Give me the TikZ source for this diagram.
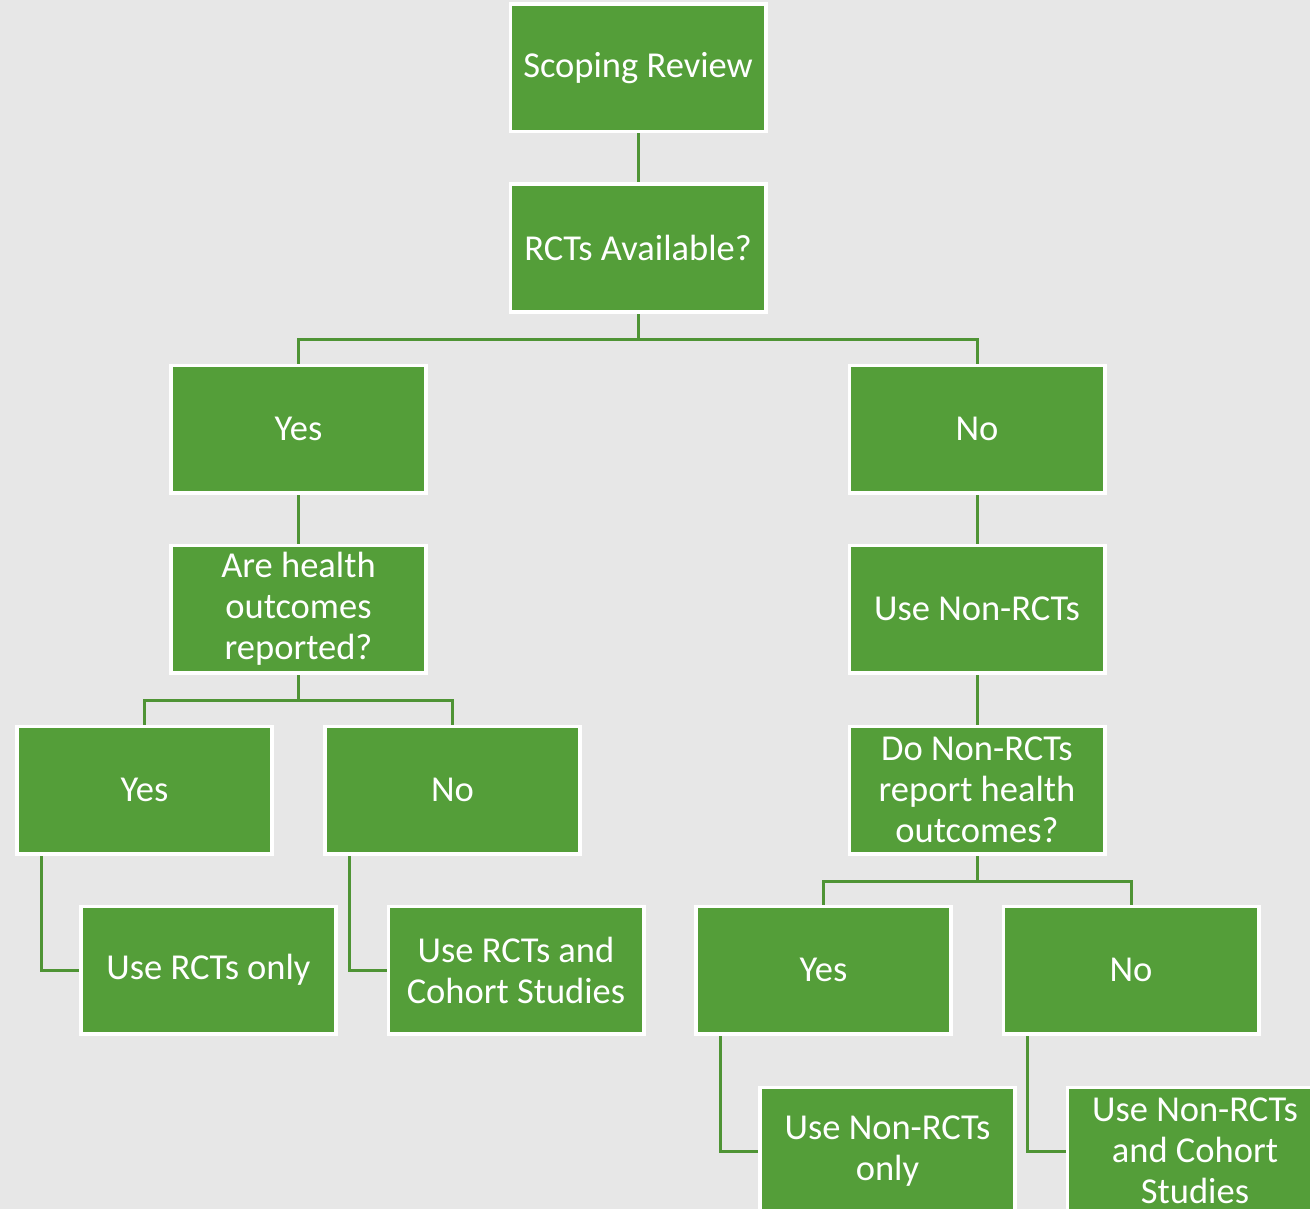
\documentclass[tikz,border=0pt]{standalone}
\usepackage{fontspec}
\setmainfont{Carlito}
\definecolor{bgcol}{HTML}{E7E7E7}
\definecolor{boxgreen}{HTML}{549E39}
\definecolor{linkgreen}{HTML}{4F9435}
\begin{document}
\begin{tikzpicture}[x=1pt,y=-1pt,
  box/.style={draw=white, line width=2.5pt, fill=boxgreen, text=white,
    minimum width=254pt, minimum height=126pt, inner sep=0pt,
    align=center, font=\fontsize{36.5}{41}\selectfont},
  link/.style={draw=linkgreen, line width=3pt}]
\fill[bgcol] (0,0) rectangle (1310,1209);
\clip (0,0) rectangle (1310,1209);
\useasboundingbox (0,0) rectangle (1310,1209);

% decision tree boxes
\node[box] (sr)      at (638,68)    {Scoping Review};
\node[box] (rct)     at (638,248)   {RCTs Available?};
\node[box] (yes1)    at (298.5,429) {Yes};
\node[box] (no1)     at (977,429)   {No};
\node[box] (are)     at (298.5,609) {Are health\\outcomes\\reported?};
\node[box] (usenon)  at (977,609)   {Use Non-RCTs};
\node[box] (yes2)    at (144.5,790) {Yes};
\node[box] (no2)     at (452.5,790) {No};
\node[box] (donon)   at (977,790)   {Do Non-RCTs\\report health\\outcomes?};
\node[box] (rctonly) at (208.5,970) {Use RCTs only};
\node[box] (rctcoh)  at (516,970)   {Use RCTs and\\Cohort Studies};
\node[box] (yes3)    at (823.5,970) {Yes};
\node[box] (no3)     at (1131,970)  {No};
\node[box] (nononly) at (887.5,1151){Use Non-RCTs\\only};
\node[box] (noncoh)  at (1195,1151) {Use Non-RCTs\\and Cohort\\Studies};

% straight links
\draw[link] (sr.south) -- (rct.north);
\draw[link] (yes1.south) -- (are.north);
\draw[link] (no1.south) -- (usenon.north);
\draw[link] (usenon.south) -- (donon.north);

% branching links
\draw[link] (rct.south) -- ++(0,27) -| (yes1.north);
\draw[link] (rct.south) -- ++(0,27) -| (no1.north);
\draw[link] (are.south) -- ++(0,27) -| (yes2.north);
\draw[link] (are.south) -- ++(0,27) -| (no2.north);
\draw[link] (donon.south) -- ++(0,27) -| (yes3.north);
\draw[link] (donon.south) -- ++(0,27) -| (no3.north);

% elbow links to outcomes
\draw[link] ([xshift=25pt]yes2.south west) |- (rctonly.west);
\draw[link] ([xshift=25pt]no2.south west) |- (rctcoh.west);
\draw[link] ([xshift=25pt]yes3.south west) |- (nononly.west);
\draw[link] ([xshift=25pt]no3.south west) |- (noncoh.west);

% redraw box outlines over link ends
\foreach \n in {sr,rct,yes1,no1,are,usenon,yes2,no2,donon,rctonly,rctcoh,yes3,no3,nononly,noncoh}
  \draw[white, line width=2.5pt] (\n.north west) rectangle (\n.south east);
\end{tikzpicture}
\end{document}
